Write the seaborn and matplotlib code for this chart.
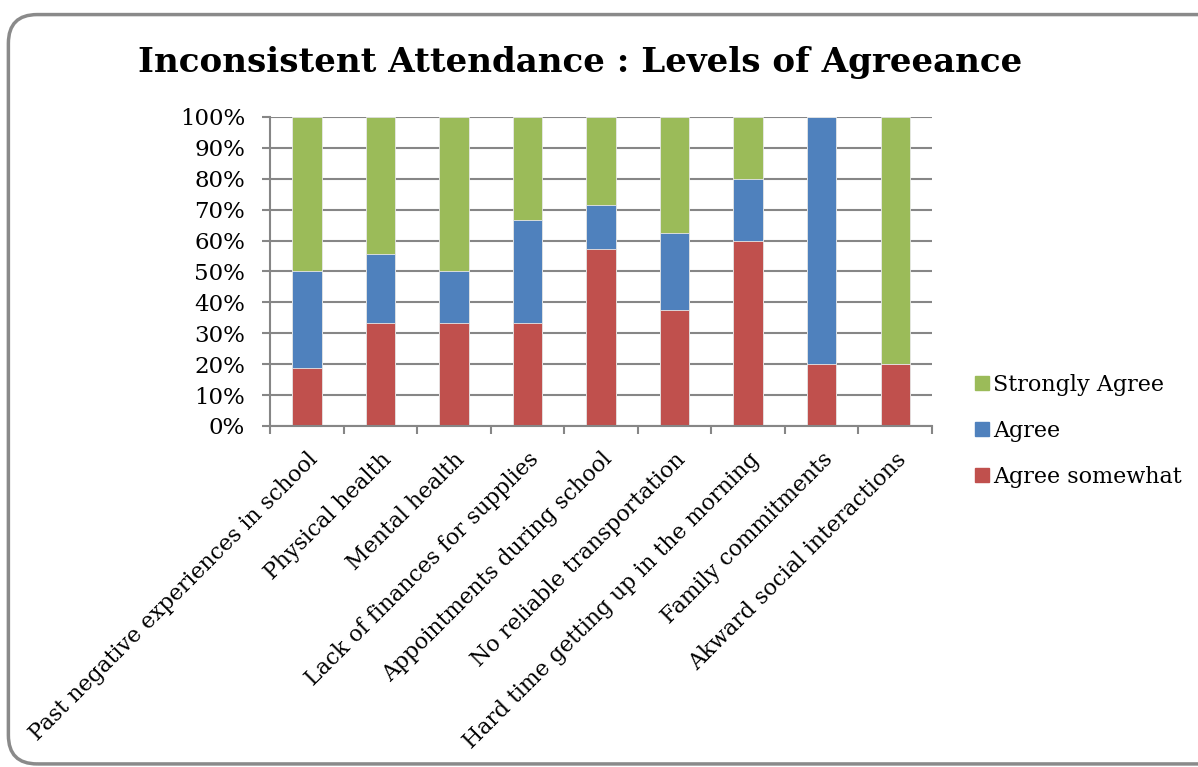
import matplotlib
matplotlib.use("Agg")
import matplotlib.pyplot as plt
from matplotlib.patches import FancyBboxPatch
from matplotlib.lines import Line2D
import seaborn as sns
import pandas as pd
import numpy as np

categories = [
    "Past negative experiences in school",
    "Physical health",
    "Mental health",
    "Lack of finances for supplies",
    "Appointments during school",
    "No reliable transportation",
    "Hard time getting up in the morning",
    "Family commitments",
    "Akward social interactions",
]
agree_somewhat = [18.75, 33.33, 33.33, 33.33, 57.14, 37.5, 60.0, 20.0, 20.0]
agree = [31.25, 22.22, 16.67, 33.33, 14.29, 25.0, 20.0, 80.0, 0.0]
strongly_agree = [50.0, 44.44, 50.0, 33.33, 28.57, 37.5, 20.0, 0.0, 80.0]

series_names = ["Strongly Agree", "Agree", "Agree somewhat"]
colors = {"Strongly Agree": "#9BBB59", "Agree": "#4F81BD", "Agree somewhat": "#C0504D"}

sns.set_theme(style="white")
plt.rcParams["font.family"] = ["DejaVu Serif", "DejaVu Sans"]
plt.rcParams["text.color"] = "black"
plt.rcParams["xtick.labelcolor"] = "black"
plt.rcParams["ytick.labelcolor"] = "black"

df = pd.DataFrame({
    "category": categories,
    "Agree somewhat": agree_somewhat,
    "Agree": agree,
    "Strongly Agree": strongly_agree,
})
# cumulative tops for the stacked layers
df["top_red"] = df["Agree somewhat"]
df["top_blue"] = df["top_red"] + df["Agree"]
df["top_green"] = df["top_blue"] + df["Strongly Agree"]

fig = plt.figure(figsize=(11.98, 7.67), dpi=100)
ax = fig.add_axes([0.2254, 0.4446, 0.5526, 0.4029])

grid_color = "#868686"
for y in np.arange(0, 101, 10):
    ax.axhline(y, color=grid_color, lw=1.5, zorder=0)

for col, name in [("top_green", "Strongly Agree"), ("top_blue", "Agree"), ("top_red", "Agree somewhat")]:
    sns.barplot(data=df, x="category", y=col, color=colors[name], width=0.4,
                saturation=1, ax=ax, edgecolor="#e8e8e8", linewidth=0.6, zorder=2)

ax.set_ylim(0, 100)
ax.set_xlim(-0.5, len(categories) - 0.5)
ax.set_yticks(np.arange(0, 101, 10))
ax.set_yticklabels([f"{v}%" for v in range(0, 101, 10)], fontsize=16.5)
ax.tick_params(axis="y", length=6, width=1.5, color=grid_color, pad=12, direction="out", left=True)

ax.set_xticks(range(len(categories)))
ax.set_xticklabels(categories, rotation=45, ha="right", va="top", rotation_mode="anchor", fontsize=15.8)
ax.tick_params(axis="x", which="major", length=0, pad=16)
ax.set_xticks(np.arange(-0.5, len(categories), 1), minor=True)
ax.tick_params(axis="x", which="minor", length=6, width=1.5, color=grid_color, direction="out", bottom=True)

ax.set_xlabel("")
ax.set_ylabel("")
for s in ["top", "right"]:
    ax.spines[s].set_visible(False)
for s in ["left", "bottom"]:
    ax.spines[s].set_color(grid_color)
    ax.spines[s].set_linewidth(1.5)

handles = [Line2D([0], [0], marker="s", linestyle="none", markersize=10.5,
                  markerfacecolor=colors[n], markeredgecolor=colors[n]) for n in series_names]
fig.legend(handles, series_names, loc="upper left", bbox_to_anchor=(0.805, 0.524),
           frameon=False, fontsize=16, handletextpad=0.1, labelspacing=1.08,
           handlelength=0.8, borderaxespad=0)

fig.text(0.4845, 0.918, "Inconsistent Attendance : Levels of Agreeance",
         ha="center", va="center", fontsize=24.6, fontweight="bold")

border = FancyBboxPatch((0.007, 0.004), 1.05, 0.977, boxstyle="round,pad=0,rounding_size=0.024",
                        transform=fig.transFigure, facecolor="none", edgecolor="#8a8a8a",
                        linewidth=2.5, mutation_aspect=1198 / 767)
fig.patches.append(border)

fig.savefig("out.png", dpi=100)
